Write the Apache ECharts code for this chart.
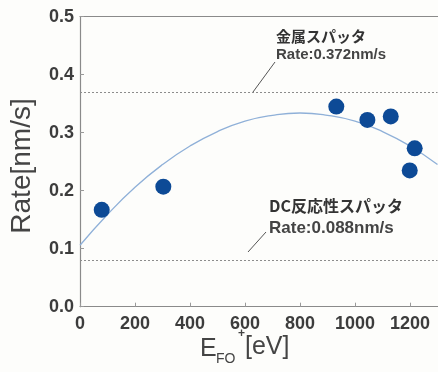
<!DOCTYPE html>
<html><head><meta charset="utf-8">
<script src="https://cdn.jsdelivr.net/npm/echarts@6/dist/echarts.min.js"></script>
<style>html,body{margin:0;padding:0;background:#fdfdfb;}#c{width:438px;height:372px;}</style>
</head><body><div id="c"></div>
<script>
// Measured data points (E_FO+ [eV], Rate [nm/s])
const pointX = [79, 303, 932, 1045, 1130, 1217, 1199];
const pointY = [0.167, 0.207, 0.345, 0.322, 0.328, 0.273, 0.235];
// Fit curve
const curveX = [0, 100, 200, 300, 400, 500, 600, 700, 800, 900, 1000, 1100, 1200, 1300];
const curveY = [0.106, 0.159, 0.206, 0.245, 0.277, 0.302, 0.320, 0.330, 0.334, 0.330, 0.320, 0.302, 0.277, 0.245];
// Reference levels (as drawn)
const metalLevel = 0.367;
const dcLevel = 0.084;
const xTicks = [0, 200, 400, 600, 800, 1000, 1200];
const yTicks = [0.0, 0.1, 0.2, 0.3, 0.4, 0.5];
const yName = 'Rate[nm/s]';
const labelMetal = ['金属スパッタ', 'Rate:0.372nm/s'];
const labelDC = ['DC反応性スパッタ', 'Rate:0.088nm/s'];

const chart = echarts.init(document.getElementById('c'));
const axisCol = '#8a8a8a';
const lat = 'Liberation Sans, Arial, sans-serif';
const tickFont = {fontSize: 18, fontWeight: 'bold', color: '#3c3c3c', fontFamily: lat};
const jp = 'Noto Sans CJK JP, sans-serif';
chart.setOption({
  backgroundColor: '#fdfdfb',
  animation: false,
  grid: {left: 80, top: 16.7, right: 0.5, bottom: 65.3, containLabel: false},
  xAxis: [{
    type: 'value', min: 0, max: 1300, interval: 200,
    axisLine: {show: true, lineStyle: {color: axisCol, width: 1.2}},
    axisTick: {show: true, inside: true, length: 4, lineStyle: {color: '#999'}},
    axisLabel: Object.assign({margin: 8, showMaxLabel: false,
      formatter: v => xTicks.indexOf(v) >= 0 ? String(v) : ''}, tickFont),
    splitLine: {show: false}
  }, {
    type: 'value', position: 'top', min: 0, max: 1300,
    axisLine: {show: true, lineStyle: {color: axisCol, width: 1.2}},
    axisTick: {show: false}, axisLabel: {show: false}, splitLine: {show: false}
  }],
  yAxis: {
    type: 'value', min: 0, max: 0.5, interval: 0.1,
    axisLine: {show: true, lineStyle: {color: axisCol, width: 1.2}},
    axisTick: {show: true, inside: true, length: 4, lineStyle: {color: '#999'}},
    axisLabel: Object.assign({margin: 6, formatter: v => {
      const i = yTicks.findIndex(t => Math.abs(t - v) < 1e-9); return i >= 0 ? yTicks[i].toFixed(1) : ''; }}, tickFont),
    splitLine: {show: false}
  },
  series: [{
    type: 'line', smooth: true, showSymbol: false,
    data: curveX.map((x, i) => [x, curveY[i]]),
    lineStyle: {color: '#8fb0d8', width: 1.3},
    markLine: {
      silent: true, symbol: ['none', 'none'], label: {show: false},
      lineStyle: {color: '#8c8c8c', type: [2, 2], width: 1.2},
      data: [{yAxis: metalLevel}, {yAxis: dcLevel}]
    },
    z: 2
  }, {
    type: 'scatter', symbolSize: 16,
    data: pointX.map((x, i) => [x, pointY[i]]),
    itemStyle: {color: '#0d4a96', opacity: 1}, z: 3
  }],
  graphic: [
    {type: 'text', x: 22, y: 166, rotation: Math.PI / 2,
      style: {text: yName, font: '28px ' + lat, fill: '#444', align: 'center', verticalAlign: 'middle'}},
    {type: 'text', left: 276, top: 29, style: {text: labelMetal[0], font: 'bold 15px ' + jp, fill: '#333'}},
    {type: 'text', left: 276, top: 47, style: {text: labelMetal[1], font: 'bold 15px ' + lat, fill: '#444'}},
    {type: 'line', shape: {x1: 275, y1: 62, x2: 253, y2: 92}, style: {stroke: '#555', lineWidth: 1}},
    {type: 'text', left: 269, top: 198, style: {text: labelDC[0], font: 'bold 16px ' + jp, fill: '#333'}},
    {type: 'text', left: 269, top: 220, style: {text: labelDC[1], font: 'bold 17px ' + lat, fill: '#444'}},
    {type: 'line', shape: {x1: 266, y1: 232, x2: 248, y2: 252}, style: {stroke: '#555', lineWidth: 1}},
    {type: 'text', left: 200, top: 337, style: {text: 'E', font: '25px ' + lat, fill: '#444'}},
    {type: 'text', left: 216, top: 352, style: {text: 'FO', font: '14px ' + lat, fill: '#444'}},
    {type: 'text', left: 238, top: 328, style: {text: '+', font: 'bold 12px ' + lat, fill: '#444'}},
    {type: 'text', left: 245, top: 335, style: {text: '[eV]', font: '25px ' + lat, fill: '#444'}}
  ]
});
</script></body></html>
